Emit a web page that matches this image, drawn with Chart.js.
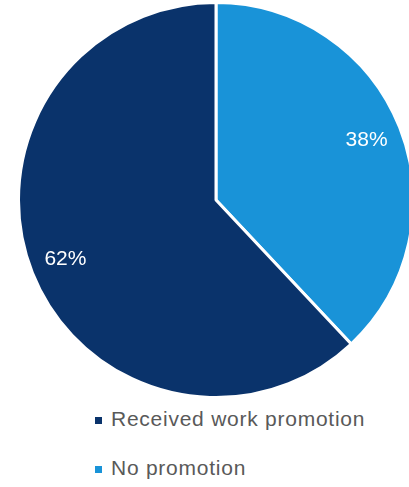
<!DOCTYPE html>
<html>
<head>
<meta charset="utf-8">
<script src="https://cdn.jsdelivr.net/npm/chart.js@4"></script>
<style>
html,body{margin:0;padding:0;background:#fff;overflow:hidden;width:409px;height:487px;}
#wrap{position:absolute;left:17px;top:1px;width:398px;height:398px;}
#legend{position:absolute;left:95px;top:0;font-family:"Liberation Sans",Arial,sans-serif;font-size:21px;letter-spacing:0.75px;color:#595959;}
.item{position:absolute;left:0;white-space:nowrap;}
.box{position:absolute;left:0;width:7px;height:7px;}
.txt{position:absolute;left:16px;top:2px;}
</style>
</head>
<body>
<div id="wrap"><canvas id="pie"></canvas></div>
<div id="legend"></div>
<script>
const categories=["No promotion","Received work promotion"];
const values=[38,62];
const colors=["#1993d8","#0a336b"];

// percentage text inside each slice
const sliceLabels={
id:"sliceLabels",
afterDatasetsDraw(chart){
const ctx=chart.ctx;
const meta=chart.getDatasetMeta(0);
ctx.save();
ctx.fillStyle="#fff";
ctx.font="300 21px 'Liberation Sans', Arial, sans-serif";
ctx.textAlign="center";
ctx.textBaseline="middle";
meta.data.forEach((arc,i)=>{
const p=arc.getProps(["x","y","startAngle","endAngle","outerRadius"],true);
const mid=(p.startAngle+p.endAngle)/2;
const r=p.outerRadius*0.82;
ctx.fillText(values[i]+"%",p.x+Math.cos(mid)*r,p.y+Math.sin(mid)*r);
});
ctx.restore();
}
};

const chart=new Chart(document.getElementById("pie"),{
type:"pie",
data:{
labels:categories,
datasets:[{
data:values,
backgroundColor:colors,
borderColor:"#fff",
borderWidth:3
}]
},
options:{
responsive:true,
maintainAspectRatio:false,
animation:false,
layout:{padding:0},
plugins:{legend:{display:false},tooltip:{enabled:false}}
},
plugins:[sliceLabels]
});

// legend below the pie, dark slice listed first
const legend=document.getElementById("legend");
const order=[1,0];
const rowTop=[405,454];
order.forEach((idx,row)=>{
const it=document.createElement("div");
it.className="item";
it.style.top=rowTop[row]+"px";
it.innerHTML=`<span class="box" style="background:${colors[idx]};top:12px"></span><span class="txt">${categories[idx]}</span>`;
legend.appendChild(it);
});
</script>
</body>
</html>
